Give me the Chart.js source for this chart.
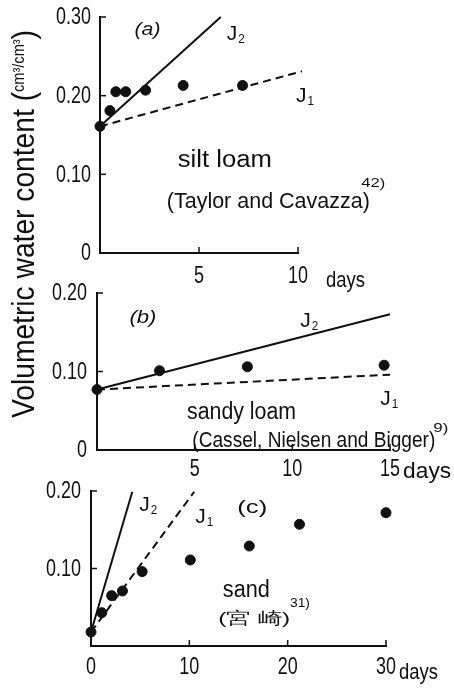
<!DOCTYPE html>
<html>
<head>
<meta charset="utf-8">
<script src="https://cdn.jsdelivr.net/npm/chart.js@4.4.1/dist/chart.umd.min.js"></script>
<style>
body{margin:0;background:#fff;}
#wrap{position:relative;width:454px;height:688px;}
#wrap canvas{position:absolute;left:0;top:0;}
</style>
</head>
<body>
<div id="wrap">
<canvas id="panelA" width="454" height="688"></canvas>
<canvas id="panelB" width="454" height="688"></canvas>
<canvas id="panelC" width="454" height="688"></canvas>
</div>
<script>
//Data
//(a) silt loam
var aDays = [0,0.5,0.8,1.3,2.3,4.2,7.2];
var aTheta = [0.161,0.181,0.205,0.205,0.207,0.213,0.213];
var aJ2Days = [0,6.1], aJ2Theta = [0.161,0.300];
var aJ1Days = [0,10.2], aJ1Theta = [0.161,0.231];
//(b) sandy loam
var bDays = [0,3.2,7.7,14.7];
var bTheta = [0.077,0.101,0.106,0.108];
var bJ2Days = [0,15], bJ2Theta = [0.077,0.173];
var bJ1Days = [0,15], bJ1Theta = [0.077,0.096];
//(c) sand
var cDays = [0,1.1,2.1,3.2,5.2,10.1,16.1,21.2,30];
var cTheta = [0.018,0.043,0.065,0.071,0.096,0.111,0.129,0.157,0.172];
var cJ2Days = [0,4.2], cJ2Theta = [0.018,0.199];
var cJ1Days = [0,10.5], cJ1Theta = [0.018,0.199];
//Axis ticks
var aDayTicks = [0,5,10], bDayTicks = [0,5,10,15], cDayTicks = [0,10,20,30];
var aThetaTicks = [0,0.1,0.2,0.3], bThetaTicks = [0,0.1,0.2], cThetaTicks = [0,0.1,0.2];

var INK = "#111";
var FONT = '"Liberation Sans",Arial,sans-serif';

//Texts on each panel, placed in data units (w = width in px the text is squeezed to)
var notes = {
	panelA:[
		{text:"(a)",x:2.4,y:0.284,size:19,italic:true,w:26},
		{text:"J",sub:"2",x:6.4,y:0.278,size:21,align:"left"},
		{text:"J",sub:"1",x:9.9,y:0.199,size:21,align:"left"},
		{text:"silt loam",x:6.3,y:0.118,size:23,w:94},
		{text:"(Taylor and Cavazza)",x:8.5,y:0.065,size:22,w:203},
		{text:"42)",x:13.8,y:0.088,size:13,w:24},
		{text:"days",x:12.4,y:-0.036,size:22,w:39}
	],
	panelB:[
		{text:"(b)",x:2.35,y:0.169,size:19,italic:true,w:27},
		{text:"J",sub:"2",x:10.4,y:0.164,size:21,align:"left"},
		{text:"J",sub:"1",x:14.5,y:0.065,size:21,align:"left"},
		{text:"sandy loam",x:7.4,y:0.048,size:23,w:109},
		{text:"(Cassel, Nielsen and Bigger)",x:11.1,y:0.011,size:22,w:243},
		{text:"9)",x:17.6,y:0.028,size:13,w:15},
		{text:"days",x:16.9,y:-0.028,size:22,w:48}
	],
	panelC:[
		{text:"J",sub:"2",x:4.9,y:0.182,size:21,align:"left"},
		{text:"J",sub:"1",x:10.6,y:0.166,size:21,align:"left"},
		{text:"(c)",x:16.4,y:0.178,size:19,w:30},
		{text:"sand",x:15.8,y:0.072,size:23,w:47},
		{text:"(宮 崎)",x:16.6,y:0.034,size:17,w:72},
		{text:"31)",x:21.25,y:0.055,size:13,w:20},
		{text:"days",x:33.3,y:-0.035,size:22,w:39}
	]
};

function pts(xs,ys){
	return xs.map(function(v,i){return {x:v,y:ys[i]};});
}

//squeezed text, like the narrow lettering of the original
function narrowText(ctx,text,x,y,font,align,k){
	ctx.save();
	ctx.font = font;
	ctx.textAlign = align;
	ctx.textBaseline = "middle";
	ctx.translate(x,y);
	ctx.scale(k,1);
	ctx.fillText(text,0,0);
	ctx.restore();
}

var notesPlugin = {
	id:"notes",
	afterDraw:function(chart){
		var ctx = chart.ctx, xs = chart.scales.x, ys = chart.scales.y, area = chart.chartArea;
		var o = chart.$panel;
		ctx.save();
		ctx.strokeStyle = INK;
		ctx.fillStyle = INK;
		ctx.lineWidth = 1.5;
		var tickFont = "23px "+FONT;
		//inward tick marks and tick labels
		ys.ticks.forEach(function(t){
			var py = ys.getPixelForValue(t.value);
			if(t.value!==0){
				ctx.beginPath();ctx.moveTo(area.left,py);ctx.lineTo(area.left+6,py);ctx.stroke();
			}
			var lab = t.value===0 ? (o.yZero?"0":"") : t.value.toFixed(2);
			if(lab) narrowText(ctx,lab,area.left-o.yPad,py+1,tickFont,"right",0.78);
		});
		xs.ticks.forEach(function(t){
			var px = xs.getPixelForValue(t.value);
			if(t.value!==0){
				ctx.beginPath();ctx.moveTo(px,area.bottom);ctx.lineTo(px,area.bottom-6);ctx.stroke();
			}
			var lab = (t.value===0&&!o.xZero) ? "" : String(t.value);
			if(lab) narrowText(ctx,lab,px,area.bottom+o.xPad,tickFont,"center",0.78);
		});
		//labels
		(notes[chart.canvas.id]||[]).forEach(function(n){
			var px = xs.getPixelForValue(n.x), py = ys.getPixelForValue(n.y);
			var font = (n.italic?"italic ":"")+n.size+"px "+FONT;
			ctx.font = font;
			var nat = ctx.measureText(n.text).width;
			var k = n.w ? n.w/nat : 1;
			narrowText(ctx,n.text,px,py,font,n.align||"center",k);
			if(n.sub){
				ctx.font = font;
				var w = ctx.measureText(n.text).width*k;
				narrowText(ctx,n.sub,px+w+1,py+5,"13px "+FONT,"left",0.9);
			}
		});
		//shared y title, drawn once
		if(chart.canvas.id==="panelA"){
			var big = "31px "+FONT, small = "16px "+FONT;
			var p1 = "Volumetric water content (", p2 = "cm³/cm³", p3 = ")";
			ctx.font = big; var w1 = ctx.measureText(p1).width, w3 = ctx.measureText(p3).width;
			ctx.font = small; var w2 = ctx.measureText(p2).width;
			var total = w1+w2+w3, target = 388;
			ctx.translate(25,224);
			ctx.rotate(-Math.PI/2);
			ctx.scale(target/total,1);
			ctx.textAlign = "left";
			ctx.textBaseline = "middle";
			var x0 = -total/2;
			ctx.font = big; ctx.fillText(p1,x0,0);
			ctx.font = small; ctx.fillText(p2,x0+w1,-5);
			ctx.font = big; ctx.fillText(p3,x0+w1+w2,0);
		}
		ctx.restore();
	}
};

function makePanel(id,o){
	var chart = new Chart(document.getElementById(id),{
		type:"scatter",
		data:{datasets:[
			{data:pts(o.days,o.theta),showLine:false,pointRadius:5,pointHoverRadius:5,backgroundColor:INK,borderColor:INK,clip:false},
			{data:pts(o.j2Days,o.j2Theta),showLine:true,pointRadius:0,borderColor:INK,borderWidth:2,clip:false},
			{data:pts(o.j1Days,o.j1Theta),showLine:true,pointRadius:0,borderColor:INK,borderWidth:2,borderDash:[8,5],clip:false}
		]},
		options:{
			responsive:false,
			animation:false,
			devicePixelRatio:1,
			layout:{padding:o.pad},
			plugins:{legend:{display:false},tooltip:{enabled:false}},
			scales:{
				x:{
					type:"linear",min:o.xTicks[0],max:o.xTicks[o.xTicks.length-1],
					afterBuildTicks:function(s){s.ticks=o.xTicks.map(function(v){return {value:v};});},
					afterFit:function(s){s.height=40;},
					grid:{display:false,drawTicks:false},
					border:{display:true,color:INK,width:2},
					ticks:{display:false}
				},
				y:{
					type:"linear",min:o.yTicks[0],max:o.yTicks[o.yTicks.length-1],
					afterBuildTicks:function(s){s.ticks=o.yTicks.map(function(v){return {value:v};});},
					afterFit:function(s){s.width=60;},
					grid:{display:false,drawTicks:false},
					border:{display:true,color:INK,width:2},
					ticks:{display:false}
				}
			}
		},
		plugins:[{id:"panelOpts",beforeInit:function(c){c.$panel=o;}},notesPlugin]
	});
	return chart;
}

makePanel("panelA",{days:aDays,theta:aTheta,j2Days:aJ2Days,j2Theta:aJ2Theta,j1Days:aJ1Days,j1Theta:aJ1Theta,
	xTicks:aDayTicks,yTicks:aThetaTicks,xZero:false,yZero:true,xPad:24,yPad:9,
	pad:{left:40,right:156,top:17,bottom:395}});
makePanel("panelB",{days:bDays,theta:bTheta,j2Days:bJ2Days,j2Theta:bJ2Theta,j1Days:bJ1Days,j1Theta:bJ1Theta,
	xTicks:bDayTicks,yTicks:bThetaTicks,xZero:false,yZero:true,xPad:20,yPad:10,
	pad:{left:37,right:64,top:293,bottom:198}});
makePanel("panelC",{days:cDays,theta:cTheta,j2Days:cJ2Days,j2Theta:cJ2Theta,j1Days:cJ1Days,j1Theta:cJ1Theta,
	xTicks:cDayTicks,yTicks:cThetaTicks,xZero:true,yZero:false,xPad:22,yPad:10,
	pad:{left:31,right:68,top:491,bottom:2}});
</script>
</body>
</html>
